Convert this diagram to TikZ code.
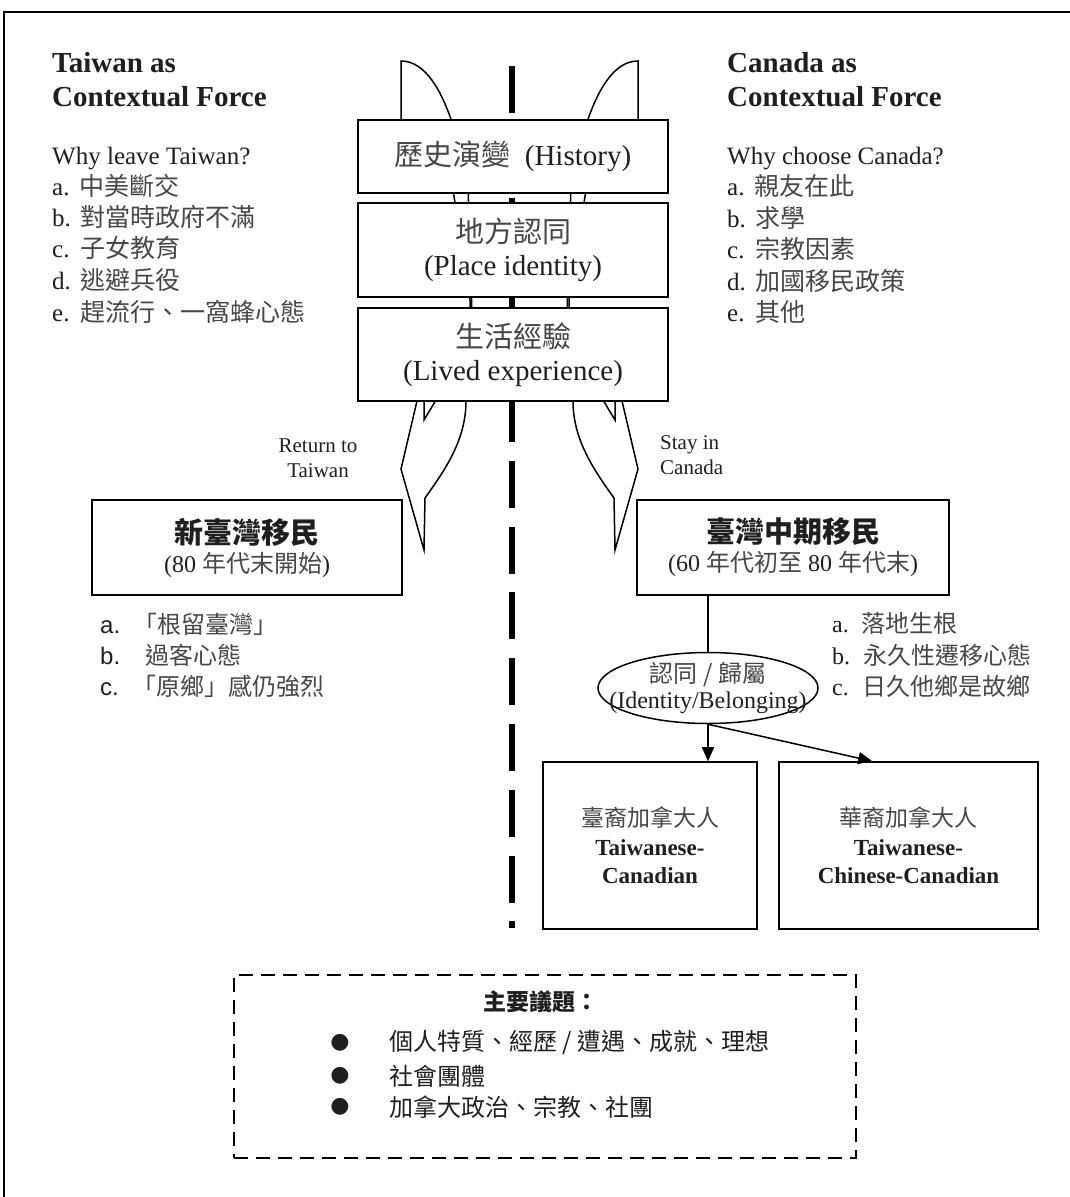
\documentclass[tikz,border=0pt]{standalone}
\usepackage{fontspec}
\setmainfont{Liberation Serif}
\newfontfamily\cjkf{Noto Sans CJK TC}
\newfontfamily\arialf{Liberation Sans}
\newfontfamily\dejavu{DejaVu Sans}
\newcommand{\cjk}{\cjkf\color{black!72}}
\usetikzlibrary{arrows.meta,shapes.geometric}
\newcommand{\fs}[2]{\fontsize{#1}{#2}\selectfont}
\newcommand{\finpaths}{%
  \draw[shp] (401,130) -- (401,61) .. controls (426,61) and (442,92) .. (453,125) -- (453,190) -- (470,300) -- (470,320);
  \draw[shp] (468,185) -- (472,315);
  \draw[shp] (417,390) -- (417,401) -- (401,469) -- (424,550) -- (425,498) .. controls (445,470) and (466,440) .. (466,401) -- (466,390);
  \draw[shp] (424,395) -- (424,420) -- (439,395);
}
\begin{document}
\begin{tikzpicture}[x=1pt,y=-1pt,
  box/.style={draw=black, line width=1.6pt, fill=white, inner sep=0pt, align=center, text=black!88},
  shp/.style={draw=black, line width=1.5pt},
  txt/.style={inner sep=0pt, text=black!88},
  conn/.style={draw=black, line width=1.5pt},
  tip/.style={-{Triangle[length=14pt,width=12pt]}},
]
\useasboundingbox (0,0) rectangle (1070,1197);
\fill[white] (0,0) rectangle (1070,1197);
\draw[line width=1.4pt] (4,1197) -- (4,12) -- (1070,12);

% central dashed divider
\draw[line width=6.5pt, dash pattern=on 47pt off 18.8pt] (512,66) -- (512,928);

% fin / arrow shapes
\finpaths
\begin{scope}[xshift=1039pt,xscale=-1]
\finpaths
\end{scope}

% left column
\node[txt, anchor=west, font=\fs{29}{34}\bfseries] (lh1) at (52,63) {Taiwan as};
\node[txt, anchor=west, font=\fs{29}{34}\bfseries] (lh2) at (52,97) {Contextual Force};
\node[txt, anchor=west, font=\fs{25}{30}] (lq) at (52,159) {Why leave Taiwan?};
\node[txt, anchor=west, font=\fs{25}{30}] (la) at (52,186) {a.\hspace{10pt}{\cjk 中美斷交}};
\node[txt, anchor=west, font=\fs{25}{30}] (lb) at (52,217) {b.\hspace{10pt}{\cjk 對當時政府不滿}};
\node[txt, anchor=west, font=\fs{25}{30}] (lc) at (52,248) {c.\hspace{11pt}{\cjk 子女教育}};
\node[txt, anchor=west, font=\fs{25}{30}] (ld) at (52,280) {d.\hspace{10pt}{\cjk 逃避兵役}};
\node[txt, anchor=west, font=\fs{25}{30}] (le) at (52,312) {e.\hspace{11pt}{\cjk 趕流行、一窩蜂心態}};

% right column
\node[txt, anchor=west, font=\fs{29}{34}\bfseries] (rh1) at (727,63) {Canada as};
\node[txt, anchor=west, font=\fs{29}{34}\bfseries] (rh2) at (727,97) {Contextual Force};
\node[txt, anchor=west, font=\fs{25}{30}] (rq) at (727,159) {Why choose Canada?};
\node[txt, anchor=west, font=\fs{25}{30}] (ra) at (727,186) {a.\hspace{10pt}{\cjk 親友在此}};
\node[txt, anchor=west, font=\fs{25}{30}] (rb) at (727,218) {b.\hspace{10pt}{\cjk 求學}};
\node[txt, anchor=west, font=\fs{25}{30}] (rc) at (727,249) {c.\hspace{11pt}{\cjk 宗教因素}};
\node[txt, anchor=west, font=\fs{25}{30}] (rd) at (727,281) {d.\hspace{10pt}{\cjk 加國移民政策}};
\node[txt, anchor=west, font=\fs{25}{30}] (re) at (727,312) {e.\hspace{11pt}{\cjk 其他}};

% central boxes
\node[box, minimum width=310pt, minimum height=73pt, font=\fs{29}{33}] (hist) at (513,156.5) {{\cjk 歷史演變}\hspace{14pt}(History)};
\node[box, minimum width=310pt, minimum height=94pt, font=\fs{29}{33}] (place) at (513,250) {{\cjk 地方認同}\\(Place identity)};
\node[box, minimum width=310pt, minimum height=93pt, font=\fs{29}{33}] (lived) at (513,354.5) {{\cjk 生活經驗}\\(Lived experience)};

% branch labels
\node[txt, align=center, font=\fs{21}{25}] (ret) at (318,458) {Return to\\Taiwan};
\node[txt, align=left, anchor=west, font=\fs{21}{25}] (stay) at (660,455) {Stay in\\Canada};

% migrant boxes
\node[box, minimum width=310pt, minimum height=95pt, font=\fs{24}{29}] (newtw) at (247,547.5) {{\fs{29}{29}\cjkf\bfseries 新臺灣移民}\\(80 {\cjk 年代末開始})};
\node[box, minimum width=312pt, minimum height=95pt, font=\fs{24}{29}] (midtw) at (793,547.5) {{\fs{29}{29}\cjkf\bfseries 臺灣中期移民}\\(60 {\cjk 年代初至} 80 {\cjk 年代末})};

% lists under migrant boxes
\node[txt, anchor=west, font=\fs{24}{28}] (na) at (100,624) {{\arialf a.}\hspace{13pt}{\cjk 「根留臺灣」}};
\node[txt, anchor=west, font=\fs{24}{28}] (nb) at (100,655) {{\arialf b.}\hspace{25pt}{\cjk 過客心態}};
\node[txt, anchor=west, font=\fs{24}{28}] (nc) at (100,686) {{\arialf c.}\hspace{14pt}{\cjk 「原鄉」感仍強烈}};
\node[txt, anchor=west, font=\fs{24}{28}] (ma) at (832,623) {a.\hspace{13pt}{\cjk 落地生根}};
\node[txt, anchor=west, font=\fs{24}{28}] (mb) at (832,655) {b.\hspace{13pt}{\cjk 永久性遷移心態}};
\node[txt, anchor=west, font=\fs{24}{28}] (mc) at (832,686) {c.\hspace{14pt}{\cjk 日久他鄉是故鄉}};

% identity ellipse
\node[ellipse, draw=black, line width=1.5pt, minimum width=220pt, minimum height=71pt, inner sep=0pt] (idn) at (708,688) {};
\node[txt, align=center, font=\fs{24}{26}] (idnt) at (708,688) {{\cjk 認同 / 歸屬}\\(Identity/Belonging)};
\draw[conn] (idn.north |- midtw.south) -- (idn.north);

% outcome boxes
\node[box, minimum width=214pt, minimum height=167pt, font=\fs{23}{28.5}] (tcan) at (650,845.5) {{\cjk 臺裔加拿大人}\\\textbf{Taiwanese-}\\\textbf{Canadian}};
\node[box, minimum width=259pt, minimum height=167pt, font=\fs{23}{28.5}] (tccan) at (908.5,845.5) {{\cjk 華裔加拿大人}\\\textbf{Taiwanese-}\\\textbf{Chinese-Canadian}};
\draw[conn, tip] (idn.south) -- (idn.south |- tcan.north);
\draw[conn, tip] (idn.south) -- ([xshift=94pt]tccan.north west);

% issues box
\node[draw=black, line width=2pt, dash pattern=on 14pt off 8pt, minimum width=622pt, minimum height=183pt, inner sep=0pt] (issues) at (545,1066.5) {};
\node[txt, font=\fs{23}{28}\cjkf\bfseries] (ititle) at (541,1002) {主要議題：};
\node[txt, font=\fs{22}{26}\dejavu] (b1) at (340,1043) {●};
\node[txt, font=\fs{22}{26}\dejavu] (b2) at (340,1076) {●};
\node[txt, font=\fs{22}{26}\dejavu] (b3) at (340,1107) {●};
\node[txt, anchor=west, font=\fs{24}{28}\cjk] (i1) at (389,1043) {個人特質、經歷 / 遭遇、成就、理想};
\node[txt, anchor=west, font=\fs{24}{28}\cjk] (i2) at (389,1076) {社會團體};
\node[txt, anchor=west, font=\fs{24}{28}\cjk] (i3) at (389,1107) {加拿大政治、宗教、社團};
\end{tikzpicture}
\end{document}
